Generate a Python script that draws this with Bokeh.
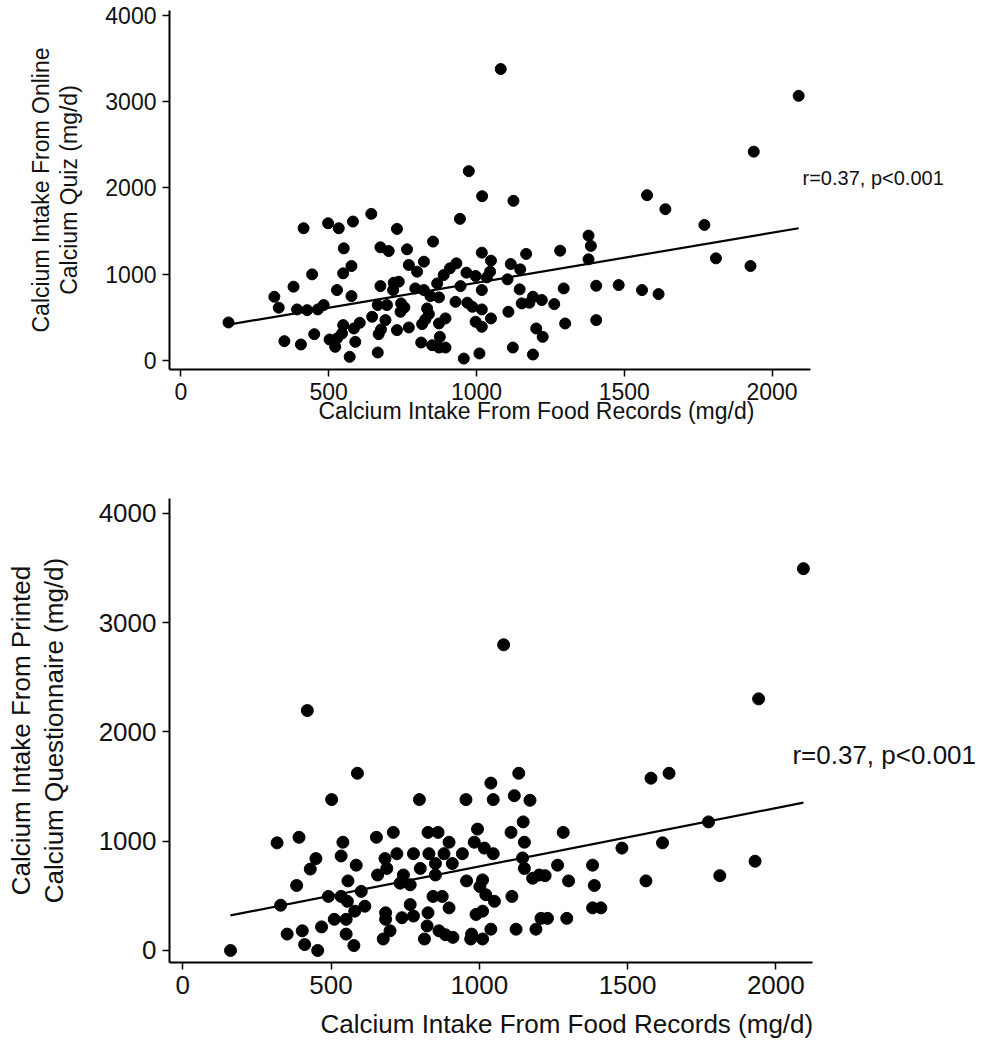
import numpy as np
from bokeh.plotting import figure
from bokeh.models import Label, Range1d, FixedTicker, Title
from bokeh.layouts import column
from bokeh.embed import file_html
from bokeh.resources import INLINE

# ---------------- data ----------------
x_ticks = [0, 500, 1000, 1500, 2000]
y_ticks = [0, 1000, 2000, 3000, 4000]

# Panel A: food records vs online calcium quiz
food_a = [974, 1019, 1082, 2090, 1938, 1125, 1577,
          1639, 1771, 1379, 1387, 1379, 1283, 1168, 1049, 1018, 1116, 1148, 1046, 1035, 1105,
          1018, 1146, 1295, 1405, 1481, 1560, 1616, 1810, 1927, 1191, 1221, 1153, 1179, 1263,
          1018, 1108, 1049, 1018, 1300, 1405, 1202, 1224, 1123, 1010, 1191,
          944, 644, 498, 582, 534, 415, 731, 853, 551, 675, 703, 765, 577, 549, 444, 771, 822,
          799, 932, 910, 889, 966, 997, 381, 528, 577, 316, 331, 393, 427, 463, 483, 675, 720,
          737, 718, 793, 822, 867, 946, 844, 873, 929, 969, 986, 666, 697, 745, 756, 743, 833,
          839, 827, 895, 873, 816, 997, 647, 692, 677, 669, 731, 771, 605, 585, 549, 545, 528,
          503, 522, 590, 571, 451, 406, 350, 161, 666, 813, 850, 876, 873, 895, 957]
quiz_a = [2194, 1903, 3379, 3068, 2420, 1850, 1915,
          1752, 1570, 1446, 1326, 1171, 1271, 1233, 1155, 1248, 1116, 1054, 1027, 961, 938,
          814, 822, 833, 864, 872, 814, 767, 1182, 1093, 736, 698, 659, 667, 651,
          589, 562, 485, 388, 426, 465, 368, 271, 147, 78, 66,
          1640, 1698, 1589, 1609, 1531, 1531, 1523, 1376, 1298, 1310, 1267, 1287, 1093, 1008, 996, 1105, 1143,
          1027, 1124, 1066, 988, 1016, 977, 853, 814, 744, 736, 609, 589, 581, 589, 640, 860, 899,
          911, 814, 833, 814, 891, 860, 744, 729, 678, 667, 620, 640, 640, 659, 612, 562, 601,
          535, 473, 485, 426, 419, 446, 504, 465, 357, 302, 349, 380, 434, 368, 407, 310, 252,
          240, 155, 213, 39, 302, 182, 221, 438, 89, 205, 174, 271, 147, 147, 19]
fit_a = (319.3, 0.5798)   # intercept, slope
stat_a = "r=0.37, p<0.001"

# Panel B: food records vs printed calcium questionnaire
food_b = [420, 2093, 1082, 1942,
          589, 502, 798, 955, 318, 392, 540, 653, 710, 827, 861, 898, 994, 983, 449, 430, 534,
          585, 557, 384, 330, 491, 534, 555, 602, 614, 580, 511, 551, 468, 352, 403, 411, 455,
          161, 551, 577, 682, 657, 688, 722, 744, 733, 767, 778, 801, 830, 852, 852, 881, 909,
          943, 957, 767, 684, 684, 739, 778, 827, 844, 875, 898, 989, 699, 676, 815, 824, 864,
          886, 911, 974, 971, 1011,
          1133, 1039, 1047, 1118, 1171, 1579, 1640, 1148, 1107, 1152, 1283, 1017, 1047, 1146,
          1152, 1180, 1202, 1222, 1264, 1301, 1382, 1388, 1382, 1410, 1481, 1618, 1562, 1773,
          1811, 1930, 1011, 1002, 1022, 1051, 1011, 1110, 1039, 1124, 1191, 1208, 1230, 1295]
printed_b = [2196, 3495, 2798, 2303,
             1622, 1381, 1381, 1381, 985, 1036, 991, 1036, 1081, 1081, 1081, 991, 1111, 991, 841, 745, 865,
             781, 637, 595, 414, 495, 495, 450, 541, 405, 360, 285, 285, 216, 150, 180, 54, 0,
             0, 150, 45, 841, 691, 751, 886, 691, 616, 601, 886, 751, 886, 796, 691, 886, 796,
             886, 637, 420, 345, 285, 300, 315, 345, 495, 495, 390, 330, 180, 105, 105, 225, 180,
             144, 120, 150, 105, 105,
             1622, 1532, 1381, 1417, 1375, 1577, 1622, 1177, 1081, 991, 1081, 937, 886, 847,
             751, 661, 691, 685, 781, 637, 781, 595, 390, 390, 937, 985, 637, 1177,
             685, 817, 646, 585, 510, 450, 360, 495, 195, 195, 195, 294, 294, 294]
fit_b = (235.0, 0.534)
stat_b = "r=0.37, p<0.001"

x_title = "Calcium Intake From Food Records (mg/d)"
y_title_a = "Calcium Intake From Online\nCalcium Quiz (mg/d)"
y_title_b = "Calcium Intake From Printed\nCalcium Questionnaire (mg/d)"

FONT = "Liberation Sans"
INK = "#111111"


def panel(xs, ys, fit, stat, ytitle, xr, x_axis_end, yr, fw, fh, borders, fs,
          dot, stat_pos, stat_fs, ylab_standoff, ylab_lh, xt_offset, xt_standoff):
    p = figure(frame_width=fw, frame_height=fh,
               x_range=Range1d(*xr), y_range=Range1d(*yr),
               output_backend="svg", toolbar_location=None,
               min_border_left=borders[0], min_border_right=borders[1],
               min_border_top=borders[2], min_border_bottom=borders[3])
    p.outline_line_color = None
    p.xgrid.visible = False
    p.ygrid.visible = False
    p.background_fill_color = "white"
    p.border_fill_color = "white"
    p.xaxis.ticker = FixedTicker(ticks=x_ticks)
    p.yaxis.ticker = FixedTicker(ticks=y_ticks)
    p.xaxis.bounds = (xr[0], x_axis_end)
    for ax in (p.xaxis, p.yaxis):
        ax.axis_line_width = 2
        ax.axis_line_color = "black"
        ax.major_tick_line_width = 1.5
        ax.major_tick_line_color = "black"
        ax.major_tick_in = 0
        ax.major_tick_out = 7
        ax.minor_tick_line_color = None
        ax.major_label_text_font = FONT
        ax.major_label_text_font_size = fs
        ax.major_label_text_color = INK
        ax.major_label_standoff = 6
    p.yaxis.major_label_orientation = "horizontal"

    # y axis title (two lines)
    p.yaxis.axis_label = ytitle
    p.yaxis.axis_label_text_font = FONT
    p.yaxis.axis_label_text_font_size = fs
    p.yaxis.axis_label_text_font_style = "normal"
    p.yaxis.axis_label_text_color = INK
    p.yaxis.axis_label_text_line_height = ylab_lh
    p.yaxis.axis_label_standoff = ylab_standoff

    # x axis title, offset to the right as in the original
    p.add_layout(Title(text=x_title, align="left", offset=xt_offset,
                       standoff=xt_standoff, text_font=FONT, text_font_size=fs,
                       text_font_style="normal", text_color=INK), "below")

    x0, x1 = min(xs), max(xs)
    p.line([x0, x1], [fit[0] + fit[1] * x0, fit[0] + fit[1] * x1],
           line_color="black", line_width=2.2)
    p.scatter(xs, ys, size=dot, fill_color="black", line_color="black")

    p.add_layout(Label(x=stat_pos[0], y=stat_pos[1], text=stat,
                       text_font=FONT, text_font_size=stat_fs, text_color=INK,
                       text_align="left", text_baseline="middle"))
    return p


p1 = panel(food_a, quiz_a, fit_a, stat_a, y_title_a,
           xr=(-38.6, 2766), x_axis_end=2130, yr=(-108, 4058), fw=829, fh=359,
           borders=(161, 0, 10, 79), fs="23px", dot=11,
           stat_pos=(2103, 2110), stat_fs="20px", ylab_standoff=20, ylab_lh=1.08,
           xt_offset=149, xt_standoff=-13)

p2 = panel(food_b, printed_b, fit_b, stat_b, y_title_b,
           xr=(-44.8, 2724), x_axis_end=2124, yr=(-110, 4137), fw=821, fh=464,
           borders=(169, 0, 50, 86), fs="26px", dot=12,
           stat_pos=(2056, 1785), stat_fs="26px", ylab_standoff=27, ylab_lh=1.1,
           xt_offset=151, xt_standoff=20)

layout = column(p1, p2, spacing=0)
open("out.html", "w").write(file_html(layout, INLINE))
